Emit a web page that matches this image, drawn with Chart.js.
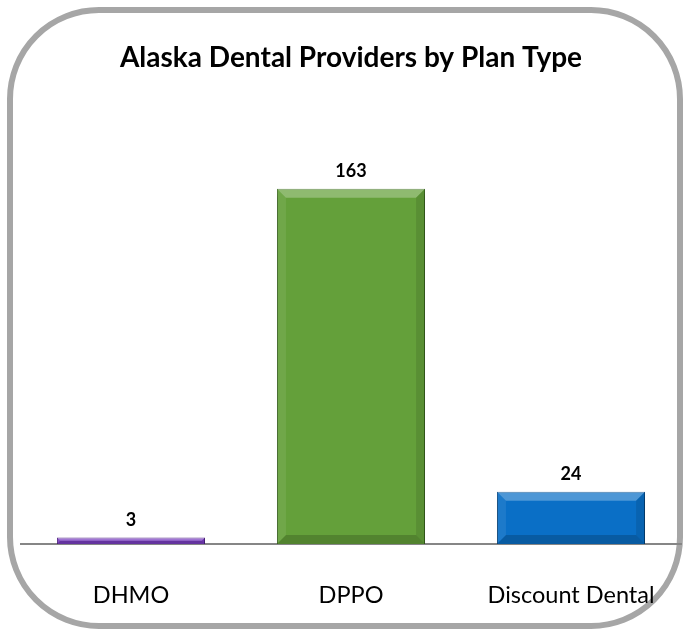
<!DOCTYPE html>
<html>
<head>
<meta charset="utf-8">
<script src="https://cdn.jsdelivr.net/npm/chart.js@4.4.0/dist/chart.umd.min.js"></script>
<style>
    html, body { margin: 0; padding: 0; background: #ffffff; }
    #wrap { position: relative; width: 685px; height: 633px; overflow: hidden; }
    #frame {
        position: absolute; left: 7px; top: 7px;
        width: 664px; height: 610px;
        border: 6px solid #a6a6a6; border-radius: 92px;
    }
    #chart { position: absolute; left: 0; top: 0; }
</style>
</head>
<body>
<div id="wrap">
    <div id="frame"></div>
    <canvas id="chart" width="685" height="633"></canvas>
</div>
<script>
// Alaska dental providers chart

const planTypes = ['DHMO', 'DPPO', 'Discount Dental'];
const providerCounts = [3, 163, 24];
const barColors = ['#7b3fc2', '#64a03a', '#0a6fc6'];
const barEdges = ['#4f2282', '#3f6e22', '#064a88'];

const FONT = 'Lato, "Open Sans", sans-serif';

// Bevel look + shadow for the bars
const bevelPlugin = {
    id: 'bevel',
    beforeDatasetsDraw(chart) {
        const ctx = chart.ctx;
        ctx.save();
        ctx.shadowColor = 'rgba(0, 0, 0, 0.35)';
        ctx.shadowBlur = 6;
        ctx.shadowOffsetY = 5;
    },
    afterDatasetsDraw(chart) {
        const ctx = chart.ctx;
        ctx.restore();
        const meta = chart.getDatasetMeta(0);
        meta.data.forEach(bar => {
            const l = bar.x - bar.width / 2;
            const r = bar.x + bar.width / 2;
            const t = bar.y;
            const b = bar.base;
            const s = Math.min(9, (b - t) / 2);
            const poly = (pts, fill) => {
                ctx.beginPath();
                ctx.moveTo(pts[0][0], pts[0][1]);
                pts.slice(1).forEach(p => ctx.lineTo(p[0], p[1]));
                ctx.closePath();
                ctx.fillStyle = fill;
                ctx.fill();
            };
            ctx.save();
            poly([[l, t], [r, t], [r - s, t + s], [l + s, t + s]], 'rgba(255,255,255,0.28)');
            poly([[l, t], [l + s, t + s], [l + s, b - s], [l, b]], 'rgba(255,255,255,0.08)');
            poly([[r, t], [r, b], [r - s, b - s], [r - s, t + s]], 'rgba(0,0,0,0.10)');
            poly([[l, b], [l + s, b - s], [r - s, b - s], [r, b]], 'rgba(0,0,0,0.18)');
            ctx.restore();
        });
    }
};

// Value labels above bars
const valueLabels = {
    id: 'valueLabels',
    afterDatasetsDraw(chart) {
        const ctx = chart.ctx;
        const meta = chart.getDatasetMeta(0);
        ctx.save();
        ctx.font = 'bold 18px ' + FONT;
        ctx.fillStyle = '#000000';
        ctx.textAlign = 'center';
        ctx.textBaseline = 'middle';
        meta.data.forEach((bar, i) => {
            ctx.fillText(String(providerCounts[i]), bar.x, bar.y - 17);
        });
        ctx.restore();
    }
};

const chartObj = new Chart(document.getElementById('chart').getContext('2d'), {
    type: 'bar',
    data: {
        labels: planTypes,
        datasets: [{
            data: providerCounts,
            backgroundColor: barColors,
            borderColor: barEdges,
            borderWidth: 1,
            categoryPercentage: 1,
            barPercentage: 0.673
        }]
    },
    options: {
        responsive: false,
        animation: false,
        layout: { padding: { left: 21, right: 4, top: 0, bottom: 0 } },
        plugins: {
            legend: { display: false },
            tooltip: { enabled: false },
            title: {
                display: true,
                text: 'Alaska Dental Providers by Plan Type',
                color: '#000000',
                font: { family: FONT, size: 28, weight: 'bold' },
                padding: { top: 41, bottom: 77 }
            }
        },
        scales: {
            y: {
                display: false,
                min: 0,
                max: 180
            },
            x: {
                grid: { display: false, drawTicks: false, tickLength: 0 },
                border: { display: true, color: '#868686', width: 2 },
                ticks: {
                    color: '#000000',
                    padding: 37,
                    font: { family: FONT, size: 23.5 }
                },
                afterFit(scale) {
                    scale.height = 89;
                    scale.paddingLeft = 0;
                    scale.paddingRight = 0;
                }
            }
        }
    },
    plugins: [bevelPlugin, valueLabels]
});
</script>
</body>
</html>
